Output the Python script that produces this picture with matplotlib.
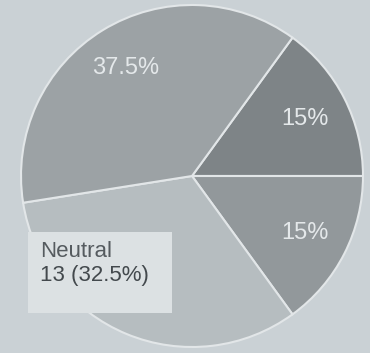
import matplotlib
matplotlib.use("Agg")
import matplotlib.pyplot as plt
from matplotlib.patches import Rectangle

plt.rcParams['font.family'] = ['Liberation Sans', 'DejaVu Sans']

# responses, in clockwise order starting at the upper-right
labels = ["A", "B", "Neutral", "C"]
counts = [6, 6, 13, 15]
colors = ["#7e8487", "#92989b", "#b6bdc0", "#9ca2a5"]
hover = "Neutral"

fig = plt.figure(figsize=(3.7, 3.53), dpi=100)
fig.patch.set_facecolor("#cad1d5")
ax = fig.add_axes([0, 0, 1, 1])

wedges, texts, pcts = ax.pie(counts, colors=colors, startangle=54, counterclock=False,
                             center=(192, 177), radius=171, autopct="%.3g%%",
                             pctdistance=0.74, frame=True,
                             wedgeprops=dict(edgecolor="#e2e6e8", linewidth=1.5),
                             textprops=dict(color="#e4e8ea", fontsize=17))
ax.set_xlim(0, 370)
ax.set_ylim(0, 353)
ax.set_aspect("equal")
ax.axis("off")

# the hovered slice shows a tooltip instead of an inline label
i = labels.index(hover)
pcts[i].set_text("")
total = sum(counts)
ax.add_patch(Rectangle((28, 40), 144, 81, facecolor="#dce1e3", edgecolor="none", zorder=3))
ax.text(40, 112, hover, fontsize=16, color="#555b5f", va="top", zorder=4)
ax.text(40, 88, f"{counts[i]} ({100 * counts[i] / total:.1f}%)", fontsize=16,
        color="#43494d", va="top", zorder=4)

fig.savefig("out.png", dpi=100, facecolor=fig.get_facecolor())
